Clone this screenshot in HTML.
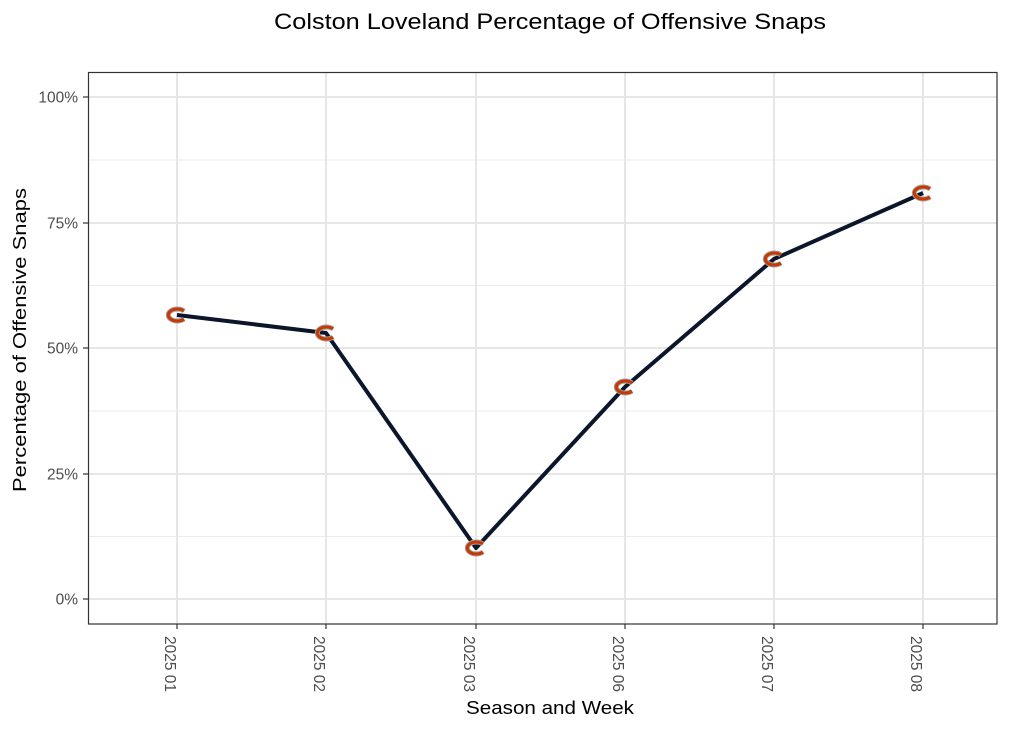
<!DOCTYPE html>
<html><head><meta charset="utf-8"><style>
html,body{margin:0;padding:0;background:#fff;}
svg{display:block;}
text{font-family:"Liberation Sans","DejaVu Sans",sans-serif;}
</style></head><body>
<svg width="1024" height="731" viewBox="0 0 1024 731" xmlns="http://www.w3.org/2000/svg">
<rect width="1024" height="731" fill="#fff"/>
<!-- minor grid -->
<g stroke="#ebebeb" stroke-width="1">
<line x1="88" x2="997" y1="160" y2="160"/>
<line x1="88" x2="997" y1="285.5" y2="285.5"/>
<line x1="88" x2="997" y1="411" y2="411"/>
<line x1="88" x2="997" y1="536.5" y2="536.5"/>
</g>
<!-- major grid -->
<g stroke="#e6e6e6" stroke-width="2">
<line x1="88" x2="997" y1="97" y2="97"/>
<line x1="88" x2="997" y1="223" y2="223"/>
<line x1="88" x2="997" y1="348" y2="348"/>
<line x1="88" x2="997" y1="474" y2="474"/>
<line x1="88" x2="997" y1="599" y2="599"/>
<line x1="177" x2="177" y1="72" y2="624"/>
<line x1="326" x2="326" y1="72" y2="624"/>
<line x1="476" x2="476" y1="72" y2="624"/>
<line x1="625" x2="625" y1="72" y2="624"/>
<line x1="774" x2="774" y1="72" y2="624"/>
<line x1="923" x2="923" y1="72" y2="624"/>
</g>
<!-- panel border -->
<rect x="88.5" y="72.5" width="908.5" height="551.5" fill="none" stroke="#333" stroke-width="1.2"/>
<!-- ticks -->
<g stroke="#333" stroke-width="1.2">
<line x1="83" x2="88" y1="97" y2="97"/>
<line x1="83" x2="88" y1="223" y2="223"/>
<line x1="83" x2="88" y1="348" y2="348"/>
<line x1="83" x2="88" y1="474" y2="474"/>
<line x1="83" x2="88" y1="599" y2="599"/>
<line x1="177" x2="177" y1="624" y2="629"/>
<line x1="326" x2="326" y1="624" y2="629"/>
<line x1="476" x2="476" y1="624" y2="629"/>
<line x1="625" x2="625" y1="624" y2="629"/>
<line x1="774" x2="774" y1="624" y2="629"/>
<line x1="923" x2="923" y1="624" y2="629"/>
</g>
<!-- y tick labels -->
<g fill="#4d4d4d" font-size="15.5" text-anchor="end">
<text x="78" y="102.5">100%</text>
<text x="78" y="228.5">75%</text>
<text x="78" y="353.5">50%</text>
<text x="78" y="479.5">25%</text>
<text x="78" y="604.5">0%</text>
</g>
<!-- x tick labels -->
<g fill="#4d4d4d" font-size="15.5">
<text transform="translate(165,636) rotate(90)">2025 01</text>
<text transform="translate(314,636) rotate(90)">2025 02</text>
<text transform="translate(464,636) rotate(90)">2025 03</text>
<text transform="translate(613,636) rotate(90)">2025 06</text>
<text transform="translate(762,636) rotate(90)">2025 07</text>
<text transform="translate(911,636) rotate(90)">2025 08</text>
</g>
<!-- line -->
<polyline points="177,315 326,333 476,548 625,387 774,259 923,193" fill="none" stroke="#0b162a" stroke-width="4" stroke-linejoin="round"/>
<!-- markers -->
<defs>
<g id="c">
<path d="M7,-4 A9,6 0 1 0 7,4" fill="none" stroke="#a0a0a0" stroke-width="5"/>
<path d="M7,-4 A9,6 0 1 0 7,4" fill="none" stroke="#c83803" stroke-width="3"/>
</g>
</defs>
<use href="#c" x="177" y="315"/>
<use href="#c" x="326" y="333"/>
<use href="#c" x="476" y="548"/>
<use href="#c" x="625" y="387"/>
<use href="#c" x="774" y="259"/>
<use href="#c" x="923" y="193"/>
<!-- titles -->
<text x="550" y="29" font-size="22" text-anchor="middle" fill="#000" textLength="552" lengthAdjust="spacingAndGlyphs">Colston Loveland Percentage of Offensive Snaps</text>
<text x="550" y="714" font-size="18" text-anchor="middle" fill="#000" textLength="168" lengthAdjust="spacingAndGlyphs">Season and Week</text>
<text transform="translate(26,340) rotate(-90)" font-size="18" text-anchor="middle" fill="#000" textLength="304" lengthAdjust="spacingAndGlyphs">Percentage of Offensive Snaps</text>
</svg>
</body></html>
